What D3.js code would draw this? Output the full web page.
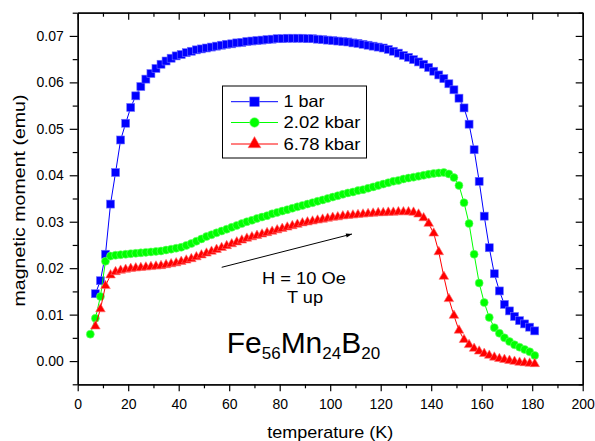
<!DOCTYPE html>
<html><head><meta charset="utf-8">
<script src="https://cdn.jsdelivr.net/npm/d3@7"></script>
<style>
body{margin:0;background:#fff;}
svg{display:block;font-family:Arial,"Liberation Sans",sans-serif;}
</style></head><body>
<svg id="chart" width="595" height="441"></svg>
<script>
// ---------- data ----------
const seriesNames = ["1 bar", "2.02 kbar", "6.78 kbar"];

const tempsBlue = [7,9,11,13,15,17,19,21,23,25,27,29,31,33,35,37,39,41,43,45,47,49,51,53,55,57,59,61,63,65,67,69,71,73,75,77,79,81,83,85,87,89,91,93,95,97,99,101,103,105,107,109,111,113,115,117,119,121,123,125,127,129,131,133,135,137,139,141,143,145,147,149,151,153,155,157,159,161,163,165,167,169,171,173,175,177,179,181];
const momentBlue = [0.0145,0.0173,0.0230,0.0338,0.0406,0.0476,0.0512,0.0546,0.0571,0.0591,
0.0607,0.0619,0.0630,0.0639,0.0646,0.0652,0.0657,0.0660,0.0664,0.0667,
0.0670,0.0672,0.0674,0.0676,0.0678,0.0680,0.0682,0.0683,0.0685,0.0686,
0.0688,0.0689,0.0690,0.0691,0.0692,0.0693,0.0694,0.0694,0.0695,0.0695,
0.0695,0.0695,0.0694,0.0694,0.0693,0.0692,0.0691,0.0690,0.0689,0.0688,
0.0687,0.0685,0.0684,0.0682,0.0680,0.0678,0.0676,0.0674,0.0671,0.0667,
0.0663,0.0658,0.0654,0.0649,0.0644,0.0639,0.0632,0.0624,0.0616,0.0608,
0.0597,0.0584,0.0566,0.0545,0.0510,0.0455,0.0387,0.0312,0.0244,0.0188,
0.0151,0.0122,0.0108,0.0096,0.0087,0.0080,0.0073,0.0065];

const tempsGreen = [5,7,9,11,13,15,17,19,21,23,25,27,29,31,33,35,37,39,41,43,45,47,49,51,53,55,57,59,61,63,65,67,69,71,73,75,77,79,81,83,85,87,89,91,93,95,97,99,101,103,105,107,109,111,113,115,117,119,121,123,125,127,129,131,133,135,137,139,141,143,145,147,149,151,153,155,157,159,161,163,165,167,169,171,173,175,177,179,181];
const momentGreen = [0.0058,0.0092,0.0139,0.0215,0.0226,0.0228,0.0229,0.0230,0.0231,0.0232,
0.0233,0.0234,0.0235,0.0236,0.0237,0.0239,0.0241,0.0243,0.0245,0.0249,
0.0253,0.0258,0.0263,0.0268,0.0272,0.0276,0.0280,0.0284,0.0288,0.0292,
0.0296,0.0300,0.0303,0.0307,0.0310,0.0313,0.0317,0.0320,0.0323,0.0326,
0.0329,0.0332,0.0335,0.0338,0.0341,0.0344,0.0347,0.0350,0.0353,0.0356,
0.0359,0.0362,0.0364,0.0367,0.0369,0.0372,0.0375,0.0378,0.0381,0.0384,
0.0387,0.0389,0.0392,0.0394,0.0396,0.0398,0.0400,0.0402,0.0404,0.0405,
0.0406,0.0403,0.0395,0.0378,0.0341,0.0296,0.0230,0.0168,0.0126,0.0094,
0.0072,0.0060,0.0050,0.0042,0.0035,0.0030,0.0025,0.0020,0.0012];

const tempsRed = [7,9,11,13,15,17,19,21,23,25,27,29,31,33,35,37,39,41,43,45,47,49,51,53,55,57,59,61,63,65,67,69,71,73,75,77,79,81,83,85,87,89,91,93,95,97,99,101,103,105,107,109,111,113,115,117,119,121,123,125,127,129,131,133,135,137,139,141,143,145,147,149,151,153,155,157,159,161,163,165,167,169,171,173,175,177,179,181];
const momentRed = [0.0075,0.0112,0.0162,0.0185,0.0192,0.0195,0.0197,0.0199,0.0200,0.0201,
0.0202,0.0203,0.0204,0.0205,0.0207,0.0209,0.0211,0.0214,0.0217,0.0220,
0.0224,0.0228,0.0232,0.0236,0.0240,0.0244,0.0248,0.0252,0.0256,0.0260,
0.0264,0.0267,0.0270,0.0273,0.0276,0.0279,0.0282,0.0285,0.0288,0.0291,
0.0294,0.0297,0.0299,0.0301,0.0303,0.0305,0.0307,0.0309,0.0310,0.0312,
0.0313,0.0314,0.0315,0.0316,0.0317,0.0318,0.0319,0.0319,0.0320,0.0320,
0.0321,0.0321,0.0321,0.0320,0.0316,0.0308,0.0296,0.0275,0.0235,0.0182,
0.0134,0.0098,0.0066,0.0046,0.0035,0.0027,0.0021,0.0016,0.0012,0.0008,
0.0005,0.0003,0.0001,-0.0001,-0.0003,-0.0004,-0.0005,-0.0006];

const xMajorTicks = [0,20,40,60,80,100,120,140,160,180,200];
const xMinorTicks = [10,30,50,70,90,110,130,150,170,190];
const yMajorTicks = [0.00,0.01,0.02,0.03,0.04,0.05,0.06,0.07];
const yMinorTicks = [-0.005,0.005,0.015,0.025,0.035,0.045,0.055,0.065,0.075];

// ---------- layout ----------
const svg = d3.select("#chart");
const L = 77.7, R = 582.7, T = 12.7, B = 384.3;
const x = d3.scaleLinear().domain([0, 200]).range([L, R]);
const y = d3.scaleLinear().domain([-0.005, 0.075]).range([B, T]);

function styleAxis(g) {
  g.selectAll("path.domain").attr("stroke", "#000").attr("stroke-width", 1.3);
  g.selectAll(".tick line").attr("stroke", "#000").attr("stroke-width", 1.2);
  g.selectAll(".tick text").attr("font-size", 14).attr("fill", "#000")
    .attr("font-family", "Arial, 'Liberation Sans', sans-serif");
}

// bottom
svg.append("g").attr("transform", `translate(0,${B})`)
  .call(d3.axisBottom(x).tickValues(xMajorTicks).tickSize(7).tickSizeOuter(0).tickPadding(8).tickFormat(d3.format("d")))
  .call(styleAxis);
svg.append("g").attr("transform", `translate(0,${B})`)
  .call(d3.axisBottom(x).tickValues(xMinorTicks).tickSize(4).tickSizeOuter(0).tickFormat(""))
  .call(styleAxis);
// top
svg.append("g").attr("transform", `translate(0,${T})`)
  .call(d3.axisTop(x).tickValues(xMajorTicks).tickSize(-7).tickSizeOuter(0).tickFormat(""))
  .call(styleAxis);
svg.append("g").attr("transform", `translate(0,${T})`)
  .call(d3.axisTop(x).tickValues(xMinorTicks).tickSize(-4).tickSizeOuter(0).tickFormat(""))
  .call(styleAxis);
// left
svg.append("g").attr("transform", `translate(${L},0)`)
  .call(d3.axisLeft(y).tickValues(yMajorTicks).tickSize(8).tickSizeOuter(0).tickPadding(6).tickFormat(d3.format(".2f")))
  .call(styleAxis);
svg.append("g").attr("transform", `translate(${L},0)`)
  .call(d3.axisLeft(y).tickValues(yMinorTicks).tickSize(5).tickSizeOuter(0).tickFormat(""))
  .call(styleAxis);
// right
svg.append("g").attr("transform", `translate(${R},0)`)
  .call(d3.axisRight(y).tickValues(yMajorTicks).tickSize(-7).tickSizeOuter(0).tickFormat(""))
  .call(styleAxis);
svg.append("g").attr("transform", `translate(${R},0)`)
  .call(d3.axisRight(y).tickValues(yMinorTicks).tickSize(-4).tickSizeOuter(0).tickFormat(""))
  .call(styleAxis);

// axis titles
svg.append("text").attr("x", (L + R) / 2).attr("y", 438).attr("text-anchor", "middle")
  .attr("font-size", 17).attr("textLength", 126).attr("lengthAdjust", "spacingAndGlyphs")
  .text("temperature (K)");
svg.append("text").attr("transform", `translate(25,${(T + B) / 2 + 2}) rotate(-90)`)
  .attr("text-anchor", "middle").attr("font-size", 17)
  .attr("textLength", 212).attr("lengthAdjust", "spacingAndGlyphs")
  .text("magnetic moment (emu)");

// ---------- series ----------
const series = [
  {name: seriesNames[0], t: tempsBlue, m: momentBlue, color: "#0000ff", edge: "#7070ff", shape: "square"},
  {name: seriesNames[1], t: tempsGreen, m: momentGreen, color: "#00ff00", edge: "#70ff70", shape: "circle"},
  {name: seriesNames[2], t: tempsRed, m: momentRed, color: "#ff0000", edge: "#ff7070", shape: "triangle"}
];

const line = d3.line().x(d => x(d[0])).y(d => y(d[1]));
const triSym = d3.symbol().type(d3.symbolTriangle);

function drawMarker(g, shape, color, edge, cx, cy, s) {
  if (shape === "square") {
    g.append("rect").attr("x", cx - s / 2).attr("y", cy - s / 2).attr("width", s).attr("height", s)
      .attr("fill", color).attr("stroke", edge).attr("stroke-width", 0.6);
  } else if (shape === "circle") {
    g.append("circle").attr("cx", cx).attr("cy", cy).attr("r", s / 2)
      .attr("fill", color).attr("stroke", edge).attr("stroke-width", 0.6);
  } else {
    g.append("path").attr("d", triSym.size(Math.sqrt(3) / 4 * s * s * 1.15)())
      .attr("transform", `translate(${cx},${cy})`)
      .attr("fill", color).attr("stroke", edge).attr("stroke-width", 0.6);
  }
}

series.forEach(sr => {
  const pts = sr.t.map((t, i) => [t, sr.m[i]]);
  const g = svg.append("g");
  g.append("path").datum(pts).attr("d", line).attr("fill", "none")
    .attr("stroke", sr.color).attr("stroke-width", 1);
  pts.forEach(p => drawMarker(g, sr.shape, sr.color, sr.edge, x(p[0]), y(p[1]), sr.shape === "triangle" ? 9 : 8));
});

// ---------- legend ----------
const lg = svg.append("g");
lg.append("rect").attr("x", 222.5).attr("y", 86).attr("width", 144).attr("height", 72)
  .attr("fill", "#fff").attr("stroke", "#000").attr("stroke-width", 1);
const rowY = [101.7, 122.5, 144];
series.forEach((sr, i) => {
  lg.append("line").attr("x1", 231).attr("x2", 278).attr("y1", rowY[i]).attr("y2", rowY[i])
    .attr("stroke", sr.color).attr("stroke-width", 1);
  drawMarker(lg, sr.shape, sr.color, sr.edge, 254.5, rowY[i], sr.shape === "triangle" ? 12 : 9.5);
  const tl = [41, 77, 77][i];
  lg.append("text").attr("x", 283.5).attr("y", rowY[i] + 5.5).attr("font-size", 16.5)
    .attr("textLength", tl).attr("lengthAdjust", "spacingAndGlyphs").text(sr.name);
});

// ---------- annotations ----------
svg.append("defs").append("marker").attr("id", "arr").attr("viewBox", "0 0 10 10")
  .attr("refX", 10).attr("refY", 5).attr("markerWidth", 9).attr("markerHeight", 6)
  .attr("markerUnits", "userSpaceOnUse").attr("orient", "auto")
  .append("path").attr("d", "M0,1.5 L10,5 L0,8.5 Z").attr("fill", "#000");
svg.append("line").attr("x1", 221.7).attr("y1", 267.3).attr("x2", 352).attr("y2", 234)
  .attr("stroke", "#000").attr("stroke-width", 1).attr("marker-end", "url(#arr)");

svg.append("text").attr("x", 304).attr("y", 284).attr("text-anchor", "middle")
  .attr("font-size", 16.5).attr("textLength", 84).attr("lengthAdjust", "spacingAndGlyphs")
  .text("H = 10 Oe");
svg.append("text").attr("x", 305).attr("y", 303).attr("text-anchor", "middle")
  .attr("font-size", 16.5).attr("textLength", 36).attr("lengthAdjust", "spacingAndGlyphs")
  .text("T up");

const fe = svg.append("text").attr("x", 226.7).attr("y", 353.3).attr("font-size", 30);
fe.append("tspan").text("Fe");
fe.append("tspan").attr("font-size", 17).attr("dy", 6).text("56");
fe.append("tspan").attr("dy", -6).text("Mn");
fe.append("tspan").attr("font-size", 17).attr("dy", 6).text("24");
fe.append("tspan").attr("dy", -6).text("B");
fe.append("tspan").attr("font-size", 17).attr("dy", 6).text("20");
</script>
</body></html>
